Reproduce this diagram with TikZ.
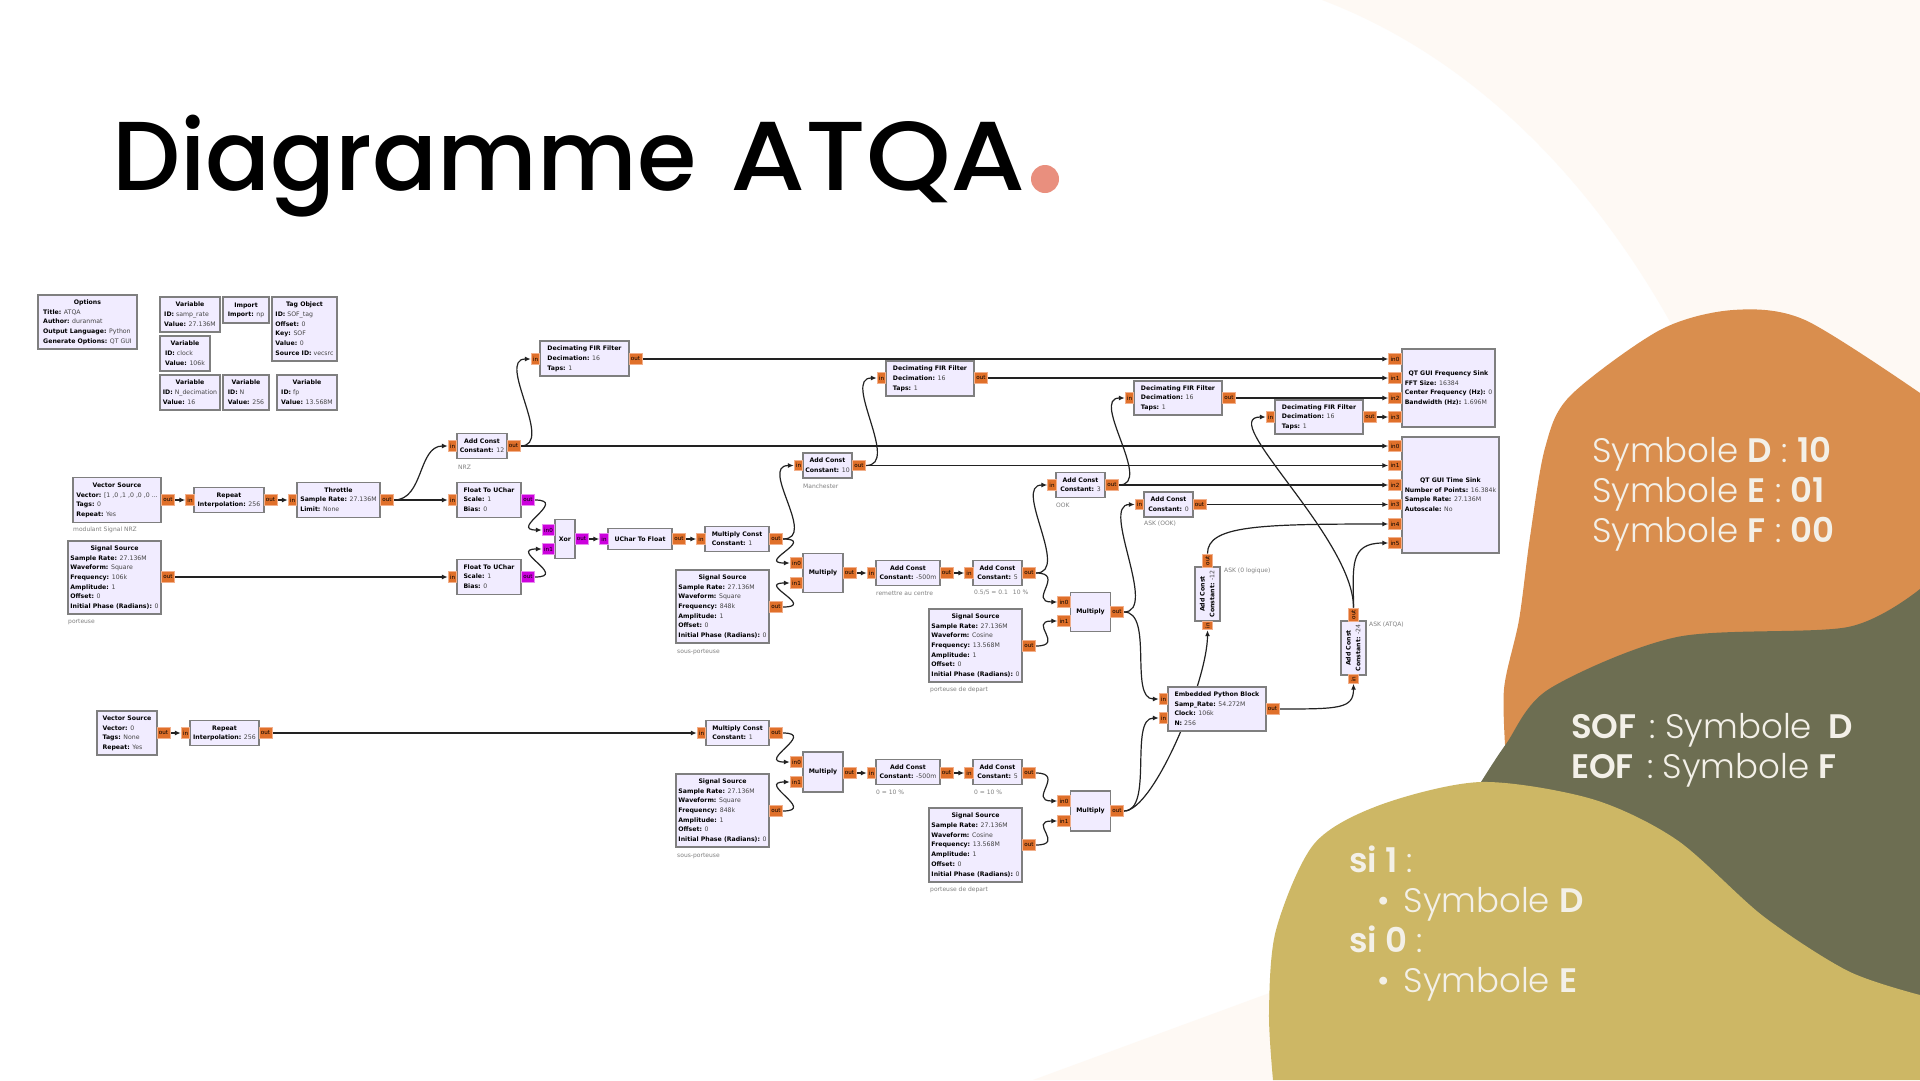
\documentclass[tikz,border=0pt]{standalone}
\usepackage{fontspec}
\usepackage{xcolor}
\usepackage{tikz}
\usetikzlibrary{arrows.meta, calc}
\setmainfont{DejaVu Sans}
\newfontfamily\titlefont{Poppins Medium}
\newfontfamily\slidefont[BoldFont={Poppins SemiBold}]{Poppins Light}
\definecolor{creamback}{HTML}{FEF9F4}
\definecolor{orangeblob}{HTML}{D98E4E}
\definecolor{oliveblob}{HTML}{6D6E52}
\definecolor{yellowblob}{HTML}{CDB765}
\definecolor{slidetext}{HTML}{F3F0E8}
\definecolor{dotcolor}{HTML}{E98F7E}
\definecolor{blockfill}{HTML}{F1ECFF}
\definecolor{blockline}{HTML}{7F7F7F}
\definecolor{portorange}{HTML}{E0702A}
\definecolor{portrim}{HTML}{F2B08C}
\definecolor{portpurple}{HTML}{CC00DD}
\definecolor{purplerim}{HTML}{E88CF0}
\definecolor{wire}{HTML}{222222}
\definecolor{valuetext}{HTML}{444444}
\newcommand{\kv}[2]{\textbf{#1:} \textcolor{valuetext}{#2}}
\newcommand{\blk}[2]{\begin{tabular}{@{}l@{}}\multicolumn{1}{@{}c@{}}{\textbf{#1}}\\#2\end{tabular}}
\pgfdeclarelayer{shapes}
\pgfdeclarelayer{wires}
\pgfsetlayers{shapes,wires,main}

\begin{document}
\begin{tikzpicture}[x=1pt, y=-1pt, >=latex]
	\tikzstyle{block} = [draw=blockline, fill=blockfill, rectangle, line width=1.5pt, inner sep=0pt, font=\fontsize{6.2}{9.7}\selectfont]
	\tikzstyle{portout} = [draw=portrim, fill=portorange, rectangle, line width=0.9pt, inner sep=0pt, minimum width=13pt, minimum height=10.5pt, font=\fontsize{5.6}{6}\selectfont]
	\tikzstyle{portin} = [portout, minimum width=8.5pt]
	\tikzstyle{portnum} = [portout, minimum width=12.5pt]
	\tikzstyle{upt} = [draw=purplerim, fill=portpurple]
	\tikzstyle{note} = [anchor=west, inner sep=0pt, text=gray, font=\fontsize{6}{7}\selectfont]
	\tikzstyle{slide} = [anchor=north west, inner sep=0pt, align=left, text=slidetext, font=\fontsize{34}{40}\slidefont]
	\tikzstyle{arrow} = [draw=wire, line width=1.2pt, ->, >={Latex[length=6pt,width=5pt]}]
	\useasboundingbox (0,0) rectangle (1920,1080);

	\begin{pgfonlayer}{shapes}
		\fill[white] (0,0) rectangle (1920,1080);
		\fill[creamback] (1322,0) .. controls (1480,60) and (1600,190) .. (1680,340) -- (1920,400) -- (1920,0) -- cycle;
		\fill[creamback] (1275,991) -- (1033,1080) -- (1300,1080) -- cycle;
		\fill[orangeblob] plot[smooth] coordinates {(1920,393) (1805,320) (1733,310) (1660,330) (1570,396) (1545,448) (1530,537) (1519,620) (1504,689) (1506,760)} -- (1920,800) -- cycle;
		\fill[oliveblob] plot[smooth] coordinates {(1920,589) (1848,627) (1677,637) (1549,689) (1506,744) (1481,782)} -- (1920,1020) -- cycle;
		\fill[yellowblob] plot[smooth] coordinates {(1920,995) (1848,971) (1763,916) (1677,840) (1592,799) (1481,782) (1380,805) (1314,844) (1276,930) (1269,1012) (1273,1080)} -- (1920,1080) -- cycle;
	\end{pgfonlayer}

	\node[anchor=base west, inner sep=0pt, font=\fontsize{98}{100}\titlefont] at (112,190.5) (title) {\scalebox{0.98}[1]{Diagramme}\hspace{8pt} \scalebox{1.1}[1]{ATQA}};
	\node[circle, fill=dotcolor, inner sep=0pt, minimum size=28pt] at (1045,179) (titledot) {};

	\node[slide] at (1592,437) (symtext) {Symbole \textbf{D} : \textbf{10}\\Symbole \textbf{E} : \textbf{01}\\Symbole \textbf{F} : \textbf{00}};
	\node[slide] at (1571,713) (softext) {\textbf{SOF}\hspace{4pt} : Symbole\hspace{7pt} \textbf{D}\\\textbf{EOF}\hspace{4pt} : Symbole \textbf{F}};
	\node[slide] at (1349,846) (sitext) {\textbf{si 1} :\\\hspace*{28pt}\textbullet\hspace*{14pt}Symbole \textbf{D}\\\textbf{si 0} :\\\hspace*{28pt}\textbullet\hspace*{14pt}Symbole \textbf{E}};

	% variables
	\node[block, minimum width=99pt, minimum height=54pt] at (87.5,322) (options) {\blk{Options}{\kv{Title}{ATQA}\\\kv{Author}{duranmat}\\\kv{Output Language}{Python}\\\kv{Generate Options}{QT GUI}}};
	\node[block, minimum width=60pt, minimum height=35pt] at (190,314.5) (varsamp) {\blk{Variable}{\kv{ID}{samp\_rate}\\\kv{Value}{27.136M}}};
	\node[block, minimum width=46pt, minimum height=26pt] at (246,310) (import) {\blk{Import}{\kv{Import}{np}}};
	\node[block, minimum width=65pt, minimum height=64pt] at (304.5,329) (tagobj) {\blk{Tag Object}{\kv{ID}{SOF\_tag}\\\kv{Offset}{0}\\\kv{Key}{SOF}\\\kv{Value}{0}\\\kv{Source ID}{vecsrc}}};
	\node[block, minimum width=50pt, minimum height=35pt] at (185,353.5) (varclock) {\blk{Variable}{\kv{ID}{clock}\\\kv{Value}{106k}}};
	\node[block, minimum width=60pt, minimum height=35pt] at (190,392.5) (vardec) {\blk{Variable}{\kv{ID}{N\_decimation}\\\kv{Value}{16}}};
	\node[block, minimum width=46pt, minimum height=35pt] at (246,392.5) (varn) {\blk{Variable}{\kv{ID}{N}\\\kv{Value}{256}}};
	\node[block, minimum width=60pt, minimum height=35pt] at (307,392.5) (varfp) {\blk{Variable}{\kv{ID}{fp}\\\kv{Value}{13.568M}}};

	% upper chain
	\node[block, minimum width=88pt, minimum height=45pt] at (117,500) (vecone) {\blk{Vector Source}{\kv{Vector}{[1 ,0 ,1 ,0 ,0 ,0 ...}\\\kv{Tags}{0}\\\kv{Repeat}{Yes}}};
	\node[portout] at (168,500) (veconeO) {out};
	\node[note] at (73,530) (veconeN) {modulant Signal NRZ};
	\node[block, minimum width=70pt, minimum height=25pt] at (229,500) (repone) {\blk{Repeat}{\kv{Interpolation}{256}}};
	\node[portin] at (190,500) (reponeI) {in};
	\node[portout] at (270.5,500) (reponeO) {out};
	\node[block, minimum width=83pt, minimum height=35pt] at (338.5,500) (throttle) {\blk{Throttle}{\kv{Sample Rate}{27.136M}\\\kv{Limit}{None}}};
	\node[portin] at (292.5,500) (throttleI) {in};
	\node[portout] at (387,500) (throttleO) {out};
	\node[block, minimum width=50pt, minimum height=25pt] at (482,446) (addnrz) {\blk{Add Const}{\kv{Constant}{12}}};
	\node[portin] at (452.5,446) (addnrzI) {in};
	\node[portout] at (513.5,446) (addnrzO) {out};
	\node[note] at (458,467) (addnrzN) {NRZ};
	\node[block, minimum width=64pt, minimum height=35pt] at (489,500) (floatone) {\blk{Float To UChar}{\kv{Scale}{1}\\\kv{Bias}{0}}};
	\node[portin] at (452.5,500) (floatoneI) {in};
	\node[portout, upt] at (528,500) (floatoneO) {out};
	\node[block, minimum width=93pt, minimum height=73pt] at (114.5,577.5) (sigone) {\blk{Signal Source}{\kv{Sample Rate}{27.136M}\\\kv{Waveform}{Square}\\\kv{Frequency}{106k}\\\kv{Amplitude}{1}\\\kv{Offset}{0}\\\kv{Initial Phase (Radians)}{0}}};
	\node[portout] at (168,577) (sigoneO) {out};
	\node[note] at (68,622) (sigoneN) {porteuse};
	\node[block, minimum width=64pt, minimum height=35pt] at (489,577) (floattwo) {\blk{Float To UChar}{\kv{Scale}{1}\\\kv{Bias}{0}}};
	\node[portin] at (452.5,577) (floattwoI) {in};
	\node[portout, upt] at (528,577) (floattwoO) {out};
	\node[block, minimum width=20pt, minimum height=39pt] at (565,539) (xor) {\textbf{Xor}};
	\node[portnum, upt] at (548.5,530) (xorA) {in0};
	\node[portnum, upt] at (548.5,549) (xorB) {in1};
	\node[portout, upt] at (581.5,539) (xorO) {out};
	\node[block, minimum width=64pt, minimum height=21pt] at (640,539) (uchar) {\textbf{UChar To Float}};
	\node[portin, upt] at (604,539) (ucharI) {in};
	\node[portout] at (679,539) (ucharO) {out};
	\node[block, minimum width=64pt, minimum height=25pt] at (737,539) (mulone) {\blk{Multiply Const}{\kv{Constant}{1}}};
	\node[portin] at (701,539) (muloneI) {in};
	\node[portout] at (776,539) (muloneO) {out};
	\node[block, minimum width=49pt, minimum height=25pt] at (827.5,465.5) (addman) {\blk{Add Const}{\kv{Constant}{10}}};
	\node[portin] at (798.5,465.5) (addmanI) {in};
	\node[portout] at (859,465.5) (addmanO) {out};
	\node[note] at (803,486) (addmanN) {Manchester};
	\node[block, minimum width=93pt, minimum height=73pt] at (722.5,606.5) (sigtwo) {\blk{Signal Source}{\kv{Sample Rate}{27.136M}\\\kv{Waveform}{Square}\\\kv{Frequency}{848k}\\\kv{Amplitude}{1}\\\kv{Offset}{0}\\\kv{Initial Phase (Radians)}{0}}};
	\node[portout] at (776,607) (sigtwoO) {out};
	\node[note] at (677,652) (sigtwoN) {sous-porteuse};
	\node[block, minimum width=40pt, minimum height=39pt] at (823,573) (mtwo) {\textbf{Multiply}};
	\node[portnum] at (796.5,563) (mtwoA) {in0};
	\node[portnum] at (796.5,583) (mtwoB) {in1};
	\node[portout] at (849.5,573) (mtwoO) {out};
	\node[block, minimum width=64pt, minimum height=25pt] at (908,573) (addcenter) {\blk{Add Const}{\kv{Constant}{-500m}}};
	\node[portin] at (871.5,573) (addcenterI) {in};
	\node[portout] at (946.5,573) (addcenterO) {out};
	\node[note] at (876,593) (addcenterN) {remettre au centre};
	\node[block, minimum width=49pt, minimum height=25pt] at (997.5,573) (addfive) {\blk{Add Const}{\kv{Constant}{5}}};
	\node[portin] at (969,573) (addfiveI) {in};
	\node[portout] at (1029,573) (addfiveO) {out};
	\node[note] at (974,593) (addfiveN) {0.5/5 = 0.1\hspace{5pt}10 \%};
	\node[block, minimum width=93pt, minimum height=73pt] at (975.5,645.5) (sigcos) {\blk{Signal Source}{\kv{Sample Rate}{27.136M}\\\kv{Waveform}{Cosine}\\\kv{Frequency}{13.568M}\\\kv{Amplitude}{1}\\\kv{Offset}{0}\\\kv{Initial Phase (Radians)}{0}}};
	\node[portout] at (1029,646) (sigcosO) {out};
	\node[note] at (930,690) (sigcosN) {porteuse de depart};
	\node[block, minimum width=40pt, minimum height=39pt] at (1090.5,612) (mthree) {\textbf{Multiply}};
	\node[portnum] at (1064,602) (mthreeA) {in0};
	\node[portnum] at (1064,621) (mthreeB) {in1};
	\node[portout] at (1117,612) (mthreeO) {out};
	\node[block, minimum width=49pt, minimum height=25pt] at (1080.5,485) (addook) {\blk{Add Const}{\kv{Constant}{3}}};
	\node[portin] at (1052,485) (addookI) {in};
	\node[portout] at (1112,485) (addookO) {out};
	\node[note] at (1056,505) (addookN) {OOK};
	\node[block, minimum width=49pt, minimum height=25pt] at (1168.5,504.5) (addask) {\blk{Add Const}{\kv{Constant}{0}}};
	\node[portin] at (1139.5,504.5) (addaskI) {in};
	\node[portout] at (1199.5,504.5) (addaskO) {out};
	\node[note] at (1144,524) (addaskN) {ASK (OOK)};

	% lower chain
	\node[block, minimum width=60pt, minimum height=44pt] at (127,733) (vectwo) {\blk{Vector Source}{\kv{Vector}{0}\\\kv{Tags}{None}\\\kv{Repeat}{Yes}}};
	\node[portout] at (163.5,733) (vectwoO) {out};
	\node[block, minimum width=69pt, minimum height=25pt] at (224.5,733) (reptwo) {\blk{Repeat}{\kv{Interpolation}{256}}};
	\node[portin] at (185.5,733) (reptwoI) {in};
	\node[portout] at (265.5,733) (reptwoO) {out};
	\node[block, minimum width=63pt, minimum height=25pt] at (737.5,733) (multwo) {\blk{Multiply Const}{\kv{Constant}{1}}};
	\node[portin] at (701.5,733) (multwoI) {in};
	\node[portout] at (776,733) (multwoO) {out};
	\node[block, minimum width=93pt, minimum height=73pt] at (722.5,810.5) (sigthree) {\blk{Signal Source}{\kv{Sample Rate}{27.136M}\\\kv{Waveform}{Square}\\\kv{Frequency}{848k}\\\kv{Amplitude}{1}\\\kv{Offset}{0}\\\kv{Initial Phase (Radians)}{0}}};
	\node[portout] at (776,811) (sigthreeO) {out};
	\node[note] at (677,856) (sigthreeN) {sous-porteuse};
	\node[block, minimum width=40pt, minimum height=40pt] at (823,772) (mfour) {\textbf{Multiply}};
	\node[portnum] at (796.5,762) (mfourA) {in0};
	\node[portnum] at (796.5,782) (mfourB) {in1};
	\node[portout] at (849.5,773) (mfourO) {out};
	\node[block, minimum width=64pt, minimum height=25pt] at (908,772) (addzero) {\blk{Add Const}{\kv{Constant}{-500m}}};
	\node[portin] at (871.5,773) (addzeroI) {in};
	\node[portout] at (946.5,773) (addzeroO) {out};
	\node[note] at (876,792) (addzeroN) {0 = 10 \%};
	\node[block, minimum width=49pt, minimum height=25pt] at (997.5,772) (addsix) {\blk{Add Const}{\kv{Constant}{5}}};
	\node[portin] at (969,773) (addsixI) {in};
	\node[portout] at (1029,773) (addsixO) {out};
	\node[note] at (974,792) (addsixN) {0 = 10 \%};
	\node[block, minimum width=93pt, minimum height=74pt] at (975.5,845) (sigcostwo) {\blk{Signal Source}{\kv{Sample Rate}{27.136M}\\\kv{Waveform}{Cosine}\\\kv{Frequency}{13.568M}\\\kv{Amplitude}{1}\\\kv{Offset}{0}\\\kv{Initial Phase (Radians)}{0}}};
	\node[portout] at (1029,845) (sigcostwoO) {out};
	\node[note] at (930,890) (sigcostwoN) {porteuse de depart};
	\node[block, minimum width=40pt, minimum height=40pt] at (1090.5,811) (mfive) {\textbf{Multiply}};
	\node[portnum] at (1064,801) (mfiveA) {in0};
	\node[portnum] at (1064,821) (mfiveB) {in1};
	\node[portout] at (1117,811) (mfiveO) {out};

	% python block and rotated constants
	\node[block, minimum width=98pt, minimum height=44pt] at (1217,709) (python) {\blk{Embedded Python Block}{\kv{Samp\_Rate}{54.272M}\\\kv{Clock}{106k}\\\kv{N}{256}}};
	\node[portin] at (1163.5,699) (pythonA) {in};
	\node[portin] at (1163.5,718) (pythonB) {in};
	\node[portout] at (1272.5,709) (pythonO) {out};
	\node[block, rotate=90, minimum width=54pt, minimum height=25pt] at (1207.5,594) (addlog) {\blk{Add Const}{\kv{Constant}{-12}}};
	\node[portin, rotate=90] at (1207.5,625.5) (addlogI) {in};
	\node[portout, rotate=90] at (1207.5,560.5) (addlogO) {out};
	\node[note] at (1224,571) (addlogN) {ASK (0 logique)};
	\node[block, rotate=90, minimum width=54pt, minimum height=25pt] at (1353.5,648) (addatqa) {\blk{Add Const}{\kv{Constant}{-24}}};
	\node[portin, rotate=90] at (1353.5,679) (addatqaI) {in};
	\node[portout, rotate=90] at (1353.5,614.5) (addatqaO) {out};
	\node[note] at (1369,625) (addatqaN) {ASK (ATQA)};

	% filters
	\node[block, minimum width=89pt, minimum height=35pt] at (584.5,358.5) (firone) {\blk{Decimating FIR Filter}{\kv{Decimation}{16}\\\kv{Taps}{1}}};
	\node[portin] at (535.5,359) (fironeI) {in};
	\node[portout] at (635.5,359) (fironeO) {out};
	\node[block, minimum width=88pt, minimum height=35pt] at (930,378.5) (firtwo) {\blk{Decimating FIR Filter}{\kv{Decimation}{16}\\\kv{Taps}{1}}};
	\node[portin] at (881.5,378) (firtwoI) {in};
	\node[portout] at (981,378) (firtwoO) {out};
	\node[block, minimum width=88pt, minimum height=34pt] at (1178,398) (firthree) {\blk{Decimating FIR Filter}{\kv{Decimation}{16}\\\kv{Taps}{1}}};
	\node[portin] at (1129.5,398) (firthreeI) {in};
	\node[portout] at (1229,398) (firthreeO) {out};
	\node[block, minimum width=88pt, minimum height=34pt] at (1319,417) (firfour) {\blk{Decimating FIR Filter}{\kv{Decimation}{16}\\\kv{Taps}{1}}};
	\node[portin] at (1270.5,417) (firfourI) {in};
	\node[portout] at (1370,417) (firfourO) {out};

	% sinks
	\node[block, minimum width=93pt, minimum height=78pt] at (1448.5,388) (freqsink) {\blk{QT GUI Frequency Sink}{\kv{FFT Size}{16384}\\\kv{Center Frequency (Hz)}{0}\\\kv{Bandwidth (Hz)}{1.696M}}};
	\node[portnum] at (1395,359) (freqA) {in0};
	\node[portnum] at (1395,378) (freqB) {in1};
	\node[portnum] at (1395,398) (freqC) {in2};
	\node[portnum] at (1395,417) (freqD) {in3};
	\node[block, minimum width=97pt, minimum height=116pt] at (1450.5,495) (timesink) {\blk{QT GUI Time Sink}{\kv{Number of Points}{16.384k}\\\kv{Sample Rate}{27.136M}\\\kv{Autoscale}{No}}};
	\node[portnum] at (1395,446) (timeA) {in0};
	\node[portnum] at (1395,465.5) (timeB) {in1};
	\node[portnum] at (1395,485) (timeC) {in2};
	\node[portnum] at (1395,504.5) (timeD) {in3};
	\node[portnum] at (1395,524) (timeE) {in4};
	\node[portnum] at (1395,543) (timeF) {in5};

	\begin{pgfonlayer}{wires}
		\draw [arrow] (veconeO.east) -- (reponeI.west);
		\draw [arrow] (reponeO.east) -- (throttleI.west);
		\draw [arrow] (throttleO.east) .. controls +(30,0) and +(-30,0) .. (addnrzI.west);
		\draw [arrow] (throttleO.east) -- (floatoneI.west);
		\draw [arrow] (sigoneO.east) -- (floattwoI.west);
		\draw [arrow] (addnrzO.east) .. controls +(35,0) and +(-35,0) .. (fironeI.west);
		\draw [arrow] (addnrzO.east) -- (timeA.west);
		\draw [arrow] (fironeO.east) -- (freqA.west);
		\draw [arrow] (floatoneO.east) .. controls +(34,0) and +(-34,0) .. (xorA.west);
		\draw [arrow] (floattwoO.east) .. controls +(34,0) and +(-34,0) .. (xorB.west);
		\draw [arrow] (xorO.east) -- (ucharI.west);
		\draw [arrow] (ucharO.east) -- (muloneI.west);
		\draw [arrow] (muloneO.east) .. controls +(35,0) and +(-35,0) .. (addmanI.west);
		\draw [arrow] (muloneO.east) .. controls +(34,0) and +(-34,0) .. (mtwoA.west);
		\draw [arrow] (sigtwoO.east) .. controls +(34,0) and +(-34,0) .. (mtwoB.west);
		\draw [arrow] (addmanO.east) .. controls +(35,0) and +(-35,0) .. (firtwoI.west);
		\draw [arrow] (addmanO.east) -- (timeB.west);
		\draw [arrow] (firtwoO.east) -- (freqB.west);
		\draw [arrow] (mtwoO.east) -- (addcenterI.west);
		\draw [arrow] (addcenterO.east) -- (addfiveI.west);
		\draw [arrow] (addfiveO.east) .. controls +(35,0) and +(-35,0) .. (addookI.west);
		\draw [arrow] (addfiveO.east) .. controls +(30,0) and +(-30,0) .. (mthreeA.west);
		\draw [arrow] (sigcosO.east) .. controls +(30,0) and +(-30,0) .. (mthreeB.west);
		\draw [arrow] (addookO.east) .. controls +(35,0) and +(-35,0) .. (firthreeI.west);
		\draw [arrow] (addookO.east) -- (timeC.west);
		\draw [arrow] (firthreeO.east) -- (freqC.west);
		\draw [arrow] (firfourO.east) -- (freqD.west);
		\draw [arrow] (mthreeO.east) .. controls +(35,0) and +(-35,0) .. (addaskI.west);
		\draw [arrow] (mthreeO.east) .. controls +(30,0) and +(-30,0) .. (pythonA.west);
		\draw [arrow] (addaskO.east) -- (timeD.west);
		\draw [arrow] (vectwoO.east) -- (reptwoI.west);
		\draw [arrow] (reptwoO.east) -- (multwoI.west);
		\draw [arrow] (multwoO.east) .. controls +(34,0) and +(-34,0) .. (mfourA.west);
		\draw [arrow] (sigthreeO.east) .. controls +(34,0) and +(-34,0) .. (mfourB.west);
		\draw [arrow] (mfourO.east) -- (addzeroI.west);
		\draw [arrow] (addzeroO.east) -- (addsixI.west);
		\draw [arrow] (addsixO.east) .. controls +(30,0) and +(-30,0) .. (mfiveA.west);
		\draw [arrow] (sigcostwoO.east) .. controls +(30,0) and +(-30,0) .. (mfiveB.west);
		\draw [arrow] (mfiveO.east) .. controls +(30,0) and +(-30,0) .. (pythonB.west);
		\draw [arrow] (mfiveO.east) .. controls +(30,0) and +(0,50) .. (addlogI.west);
		\draw [arrow] (pythonO.east) .. controls +(60,0) and +(0,25) .. (addatqaI.west);
		\draw [arrow] (addlogO.east) .. controls +(0,-28) and +(-130,0) .. (timeE.west);
		\draw [arrow] (addatqaO.east) .. controls +(0,-40) and +(-40,0) .. (timeF.west);
		\draw [arrow] (addatqaO.east) .. controls +(0,-70) and +(-50,0) .. (firfourI.west);
	\end{pgfonlayer}
\end{tikzpicture}
\end{document}
